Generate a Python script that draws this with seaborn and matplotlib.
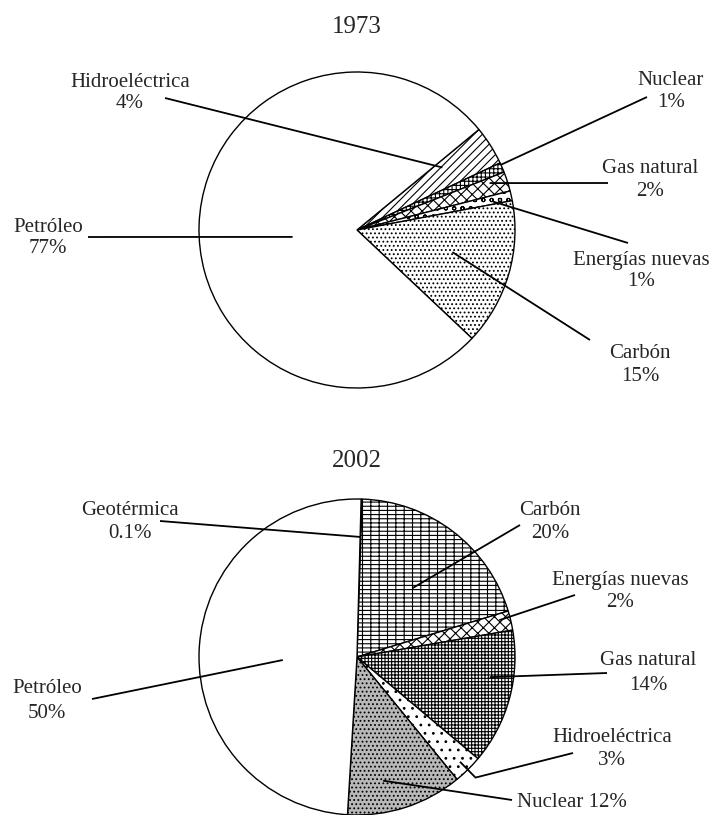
import numpy as np
import matplotlib
matplotlib.use('Agg')
import matplotlib.pyplot as plt
import seaborn as sns

# Datos 1973 (en el sentido de las agujas del reloj)
fuentes_1973 = ['Hidroeléctrica', 'Nuclear', 'Gas natural', 'Energías nuevas', 'Carbón', 'Petróleo']
valores_1973 = [4, 1, 2, 1, 15, 77]

# Datos 2002
fuentes_2002 = ['Geotérmica', 'Carbón', 'Energías nuevas', 'Gas natural', 'Hidroeléctrica', 'Nuclear', 'Petróleo']
valores_2002 = [0.1, 20, 2, 14, 3, 12, 50]

# Estilo de cada sector
tramas_1973 = ['////', '++++', 'xxx', 'oo', '....', '']
colores_1973 = ['white'] * 6
tramas_2002 = ['', '----||', 'xxx', '+++++', '..', '....', '']
colores_2002 = ['white', 'white', 'white', 'white', 'white', '#b8b8b8', 'white']

W, H = 716, 815
R = 158

# Etiquetas (píxeles): x texto, base línea 1, base línea 2, extremo exterior,
# fracción del ángulo del sector, radio interior, radio del codo
etiquetas_1973 = {
    'Hidroeléctrica': (130, 87, 108, (165, 98), 0.77, 0.67, None),
    'Nuclear': (671, 85, 107, (647, 97), 0.8, 1.0, None),
    'Gas natural': (650, 173, 196, (608, 183), 0.72, 0.89, None),
    'Energías nuevas': (641, 265, 286, (628, 243), 0.3, 0.88, None),
    'Carbón': (640, 358, 381, (590, 340), 0.56, 0.62, None),
    'Petróleo': (48, 232, 253, (88, 237), 0.529, 0.41, None),
}
etiquetas_2002 = {
    'Geotérmica': (130, 515, 538, (160, 521), 0.5, 0.76, None),
    'Carbón': (550, 515, 538, (520, 525), 0.48, 0.56, None),
    'Energías nuevas': (620, 585, 607, (575, 595), 0.66, 0.93, None),
    'Gas natural': (648, 665, 690, (607, 673), 0.63, 0.85, None),
    'Hidroeléctrica': (612, 742, 765, (573, 753), 0.49, 0.93, 1.07),
    'Nuclear': (572, 807, None, (512, 800), 0.36, 0.8, None),
    'Petróleo': (47, 693, 718, (92, 699), 0.527, 0.47, None),
}

sns.set_style('white')
plt.rcParams['font.family'] = ['Liberation Serif', 'DejaVu Serif']
plt.rcParams['hatch.linewidth'] = 0.8

fig = plt.figure(figsize=(W / 100, H / 100), dpi=100)
ax = fig.add_axes([0, 0, 1, 1])


def P(x, y):
    return x, H - y


def dibujar(valores, nombres, tramas, colores, centro, inicio, etiquetas, titulo, y_titulo):
    cx, cy = P(*centro)
    wedges, _ = ax.pie(valores, center=(cx, cy), radius=R, startangle=inicio,
                       counterclock=False, colors=colores,
                       wedgeprops=dict(edgecolor='black', linewidth=1.0))
    for w, t in zip(wedges, tramas):
        w.set_hatch(t)

    for w, nombre, v in zip(wedges, nombres, valores):
        tx, b1, b2, salida, f, r_in, codo = etiquetas[nombre]
        ang = np.deg2rad(w.theta1 + f * (w.theta2 - w.theta1))
        xs = [salida[0]]
        ys = [H - salida[1]]
        if codo is not None:
            xs.append(cx + codo * R * np.cos(ang))
            ys.append(cy + codo * R * np.sin(ang))
        xs.append(cx + r_in * R * np.cos(ang))
        ys.append(cy + r_in * R * np.sin(ang))
        ax.plot(xs, ys, color='black', lw=1.3, solid_capstyle='butt')

        pct = f'{v:g}%'
        if b2 is None:
            ax.text(*P(tx, b1), f'{nombre} {pct}', ha='center', va='baseline', fontsize=15)
        else:
            ax.text(*P(tx, b1), nombre, ha='center', va='baseline', fontsize=15)
            ax.text(*P(tx, b2), pct, ha='center', va='baseline', fontsize=15)

    ax.text(*P(357, y_titulo), titulo, ha='center', va='baseline', fontsize=18)


dibujar(valores_1973, fuentes_1973, tramas_1973, colores_1973, (357, 230), 39.5,
        etiquetas_1973, '1973', 33)
dibujar(valores_2002, fuentes_2002, tramas_2002, colores_2002, (357, 657), 88.5,
        etiquetas_2002, '2002', 467)

ax.set_xlim(0, W)
ax.set_ylim(0, H)
ax.set_aspect('auto')
ax.axis('off')

fig.savefig('out.png', dpi=100, facecolor='white')
